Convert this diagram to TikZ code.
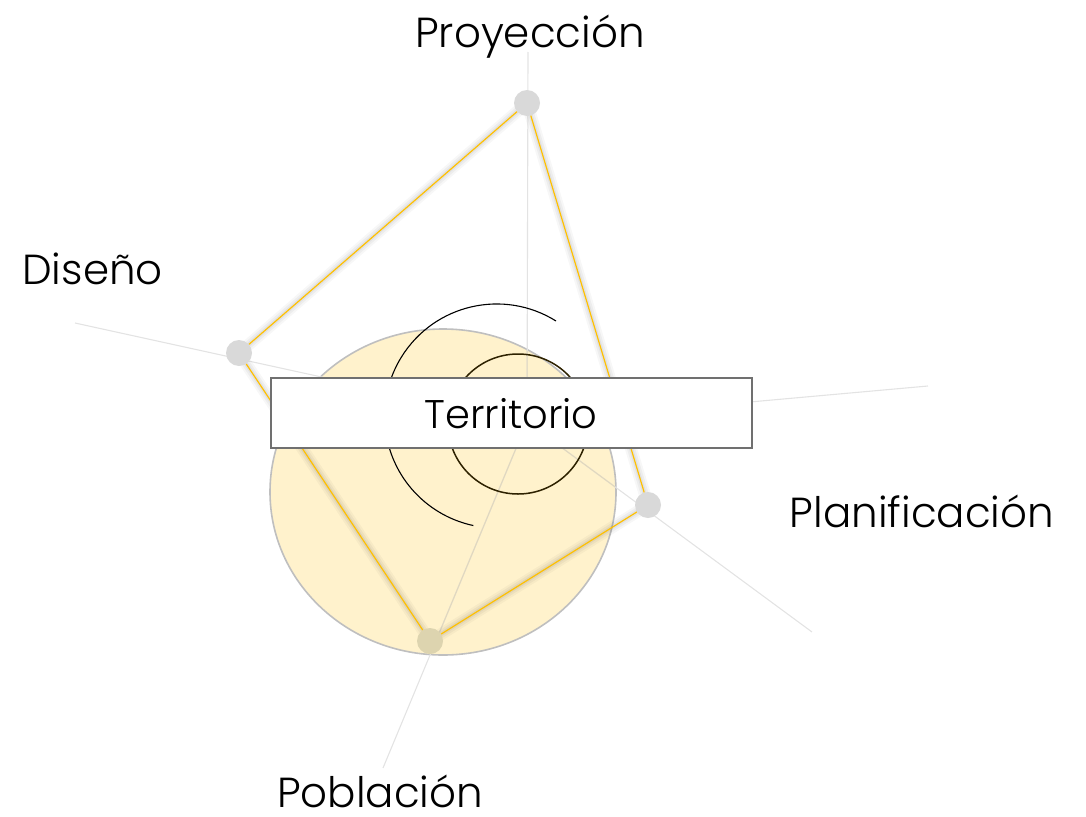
\documentclass[tikz,border=0pt]{standalone}
\usepackage{fontspec}
\usetikzlibrary{shapes.geometric}
\setmainfont{Poppins Light}
\definecolor{axisgray}{HTML}{E3E3E3}
\definecolor{polyorange}{HTML}{FFC000}
\definecolor{dotgray}{HTML}{D9D9D9}
\definecolor{circfill}{HTML}{FFF2CC}
\definecolor{circedge}{HTML}{BFBFBF}
\definecolor{boxedge}{HTML}{707070}
\definecolor{innerdark}{HTML}{2E2200}
\definecolor{axisin}{HTML}{E2D8BC}
\tikzset{
  axisline/.style={draw=axisgray, line width=1.1pt},
  polyline/.style={draw=polyorange, line width=1.2pt},
  dotnode/.style={circle, fill=dotgray, inner sep=0pt, minimum size=26pt},
  lbl/.style={font=\fontsize{42}{46}\selectfont, text=black, inner sep=0pt, anchor=base},
  shadowline/.style={draw=black, line cap=round, line join=round},
}
\begin{document}
\begin{tikzpicture}[x=1pt,y=-1pt]
\useasboundingbox (0,0) rectangle (1086,816);
% coordinates
\coordinate (c) at (527,422);
\coordinate (eup) at (528,52);
\coordinate (eleft) at (75,323);
\coordinate (eright) at (928,386);
\coordinate (elr) at (812,632);
\coordinate (edown) at (383,768);
% yellow ellipse
\node[draw=circedge, fill=circfill, line width=1.6pt, ellipse, minimum width=346pt, minimum height=326pt, inner sep=0pt] (terr) at (443,492) {};
% axes
\draw[axisline] (c) -- (eup);
\draw[axisline] (c) -- (eleft);
\draw[axisline] (c) -- (eright);
\draw[axisline] (c) -- (elr);
\draw[axisline] (c) -- (edown);
\begin{scope}
\clip (443,492) ellipse [x radius=172pt, y radius=162pt];
\draw[axisline, draw=axisin] (c) -- (eup);
\draw[axisline, draw=axisin] (c) -- (elr);
\draw[axisline, draw=axisin] (c) -- (edown);
\end{scope}
% inner circle
\draw[innerdark, line width=1.5pt] (518,424) circle [radius=70pt];
% dots positions
\coordinate (pP) at (527,103);
\coordinate (pD) at (239,353);
\coordinate (pL) at (648,505);
\coordinate (pB) at (430,641);
% shadow
\begin{scope}[shift={(5,4)}]
\draw[shadowline, opacity=0.03, line width=12pt] (pP) -- (pL) -- (pB) -- (pD) -- cycle;
\draw[shadowline, opacity=0.04, line width=8pt] (pP) -- (pL) -- (pB) -- (pD) -- cycle;
\draw[shadowline, opacity=0.05, line width=4pt] (pP) -- (pL) -- (pB) -- (pD) -- cycle;
\end{scope}
% dots
\node[dotnode] (dP) at (pP) {};
\node[dotnode] (dD) at (pD) {};
\node[dotnode] (dL) at (pL) {};
\node[dotnode, fill={rgb,255:red,221;green,212;blue,175}] (dB) at (pB) {};
% polygon
\draw[polyline] (dP) -- (dL) -- (dB) -- (dD) -- (dP);
% outer arc
\draw[black, line width=1.1pt] (556,321) arc[start angle=58, end angle=258, radius=112pt];
% box
\node[draw=boxedge, fill=white, line width=1.6pt, minimum width=481pt, minimum height=70pt, inner sep=0pt] (box) at (511.5,413) {};
\node[lbl, font=\fontsize{40}{44}\selectfont] (tT) at (511,428) {Territorio};
% labels
\node[lbl] (tP) at (530,48) {Proyección};
\node[lbl] (tD) at (92.5,284) {Diseño};
\node[lbl] (tL) at (922,527) {Planificación};
\node[lbl] (tB) at (380,807) {Población};
\end{tikzpicture}
\end{document}
